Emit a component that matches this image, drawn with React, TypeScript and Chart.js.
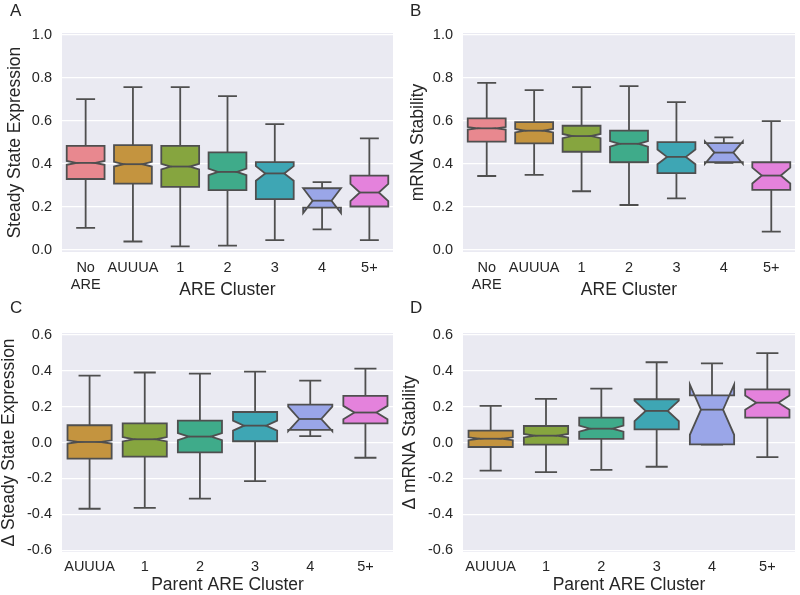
import React, { useEffect, useRef } from "react";
import { Chart, registerables } from "chart.js";
Chart.register(...registerables);

const FONT = '"Liberation Sans", Arial, Helvetica, sans-serif';
const TEXT = "#262626";
const LINE = "#4f4f4f";
const BG = "#EAEAF2";

// categories
const catsAB: (string | string[])[] = [["No", "ARE"], "AUUUA", "1", "2", "3", "4", "5+"];
const catsCD: string[] = ["AUUUA", "1", "2", "3", "4", "5+"];
const colorsAB = ["#e8888f", "#c4943f", "#86a53f", "#3fab8a", "#3ea6b4", "#9aa6e8", "#e482dc"];
const colorsCD = colorsAB.slice(1);
const ticksAB = [0, 0.2, 0.4, 0.6, 0.8, 1.0];
const ticksCD = [-0.6, -0.4, -0.2, 0, 0.2, 0.4, 0.6];

// Panel A: Steady State Expression
const aLow = [0.102, 0.039, 0.016, 0.02, 0.045, 0.095, 0.045];
const aQ1 = [0.33, 0.308, 0.293, 0.278, 0.236, 0.197, 0.202];
const aMed = [0.405, 0.399, 0.388, 0.363, 0.356, 0.229, 0.267];
const aQ3 = [0.484, 0.488, 0.484, 0.454, 0.409, 0.287, 0.346];
const aHigh = [0.702, 0.758, 0.758, 0.716, 0.586, 0.315, 0.519];
const aNotchLo = [0.396, 0.388, 0.375, 0.348, 0.322, 0.171, 0.227];
const aNotchHi = [0.414, 0.41, 0.401, 0.378, 0.39, 0.287, 0.307];

// Panel B: mRNA Stability
const bLow = [0.344, 0.349, 0.273, 0.209, 0.24, 0.405, 0.085];
const bQ1 = [0.504, 0.496, 0.457, 0.408, 0.357, 0.408, 0.279];
const bMed = [0.566, 0.555, 0.53, 0.494, 0.433, 0.453, 0.346];
const bQ3 = [0.612, 0.595, 0.578, 0.555, 0.502, 0.497, 0.408];
const bHigh = [0.778, 0.744, 0.758, 0.763, 0.688, 0.524, 0.6];
const bNotchLo = [0.56, 0.547, 0.52, 0.481, 0.399, 0.401, 0.309];
const bNotchHi = [0.572, 0.563, 0.54, 0.507, 0.467, 0.505, 0.383];

// Panel C: Δ Steady State Expression
const cLow = [-0.369, -0.364, -0.313, -0.215, 0.036, -0.085];
const cQ1 = [-0.09, -0.079, -0.055, 0.007, 0.07, 0.107];
const cMed = [0.003, 0.018, 0.033, 0.094, 0.131, 0.167];
const cQ3 = [0.096, 0.107, 0.122, 0.17, 0.211, 0.26];
const cHigh = [0.373, 0.39, 0.384, 0.395, 0.345, 0.412];
const cNotchLo = [-0.006, 0.006, 0.013, 0.066, 0.063, 0.13];
const cNotchHi = [0.012, 0.03, 0.053, 0.122, 0.2, 0.204];

// Panel D: Δ mRNA Stability
const dLow = [-0.157, -0.165, -0.152, -0.135, -0.012, -0.082];
const dQ1 = [-0.025, -0.012, 0.02, 0.073, -0.01, 0.139];
const dMed = [0.021, 0.038, 0.077, 0.176, 0.183, 0.222];
const dQ3 = [0.066, 0.092, 0.139, 0.241, 0.263, 0.296];
const dHigh = [0.204, 0.243, 0.3, 0.447, 0.441, 0.498];
const dNotchLo = [0.013, 0.028, 0.06, 0.119, 0.043, 0.182];
const dNotchHi = [0.029, 0.048, 0.094, 0.233, 0.323, 0.262];

type Panel = {
  letter: string;
  cats: (string | string[])[];
  colors: string[];
  low: number[]; q1: number[]; med: number[]; q3: number[]; high: number[];
  nLo: number[]; nHi: number[];
  yTitle: string; xTitle: string;
  yMin: number; yMax: number; ticks: number[];
  left: number; top: number; w: number; h: number;
  padTop: number; padRight: number; yAxisW: number; xAxisH: number;
  xTickPad: number; xTitleY: number; yTitleX: number; letterY: number;
};

const panels: Panel[] = [
  {
    letter: "A", cats: catsAB, colors: colorsAB,
    low: aLow, q1: aQ1, med: aMed, q3: aQ3, high: aHigh, nLo: aNotchLo, nHi: aNotchHi,
    yTitle: "Steady State Expression", xTitle: "ARE Cluster",
    yMin: -0.01, yMax: 1.01, ticks: ticksAB,
    left: 0, top: 0, w: 400, h: 297, padTop: 33, padRight: 7, yAxisW: 62, xAxisH: 45,
    xTickPad: 7, xTitleY: 290, yTitleX: 20, letterY: 11,
  },
  {
    letter: "B", cats: catsAB, colors: colorsAB,
    low: bLow, q1: bQ1, med: bMed, q3: bQ3, high: bHigh, nLo: bNotchLo, nHi: bNotchHi,
    yTitle: "mRNA Stability", xTitle: "ARE Cluster",
    yMin: -0.01, yMax: 1.01, ticks: ticksAB,
    left: 400, top: 0, w: 400, h: 297, padTop: 33, padRight: 5, yAxisW: 63, xAxisH: 45,
    xTickPad: 7, xTitleY: 290, yTitleX: 22.5, letterY: 11,
  },
  {
    letter: "C", cats: catsCD, colors: colorsCD,
    low: cLow, q1: cQ1, med: cMed, q3: cQ3, high: cHigh, nLo: cNotchLo, nHi: cNotchHi,
    yTitle: "Δ Steady State Expression", xTitle: "Parent ARE Cluster",
    yMin: -0.61, yMax: 0.61, ticks: ticksCD,
    left: 0, top: 297, w: 400, h: 298, padTop: 36, padRight: 7, yAxisW: 62, xAxisH: 43,
    xTickPad: 6, xTitleY: 288, yTitleX: 14, letterY: 11.5,
  },
  {
    letter: "D", cats: catsCD, colors: colorsCD,
    low: dLow, q1: dQ1, med: dMed, q3: dQ3, high: dHigh, nLo: dNotchLo, nHi: dNotchHi,
    yTitle: "Δ mRNA Stability", xTitle: "Parent ARE Cluster",
    yMin: -0.61, yMax: 0.61, ticks: ticksCD,
    left: 400, top: 297, w: 400, h: 298, padTop: 36, padRight: 5, yAxisW: 63, xAxisH: 43,
    xTickPad: 6, xTitleY: 288, yTitleX: 15, letterY: 11.5,
  },
];

function makePlugin(p: Panel) {
  return {
    id: "notchedBox" + p.letter,
    beforeDraw(chart: any) {
      const { ctx, chartArea: a } = chart;
      ctx.save();
      ctx.fillStyle = BG;
      ctx.fillRect(a.left, a.top, a.right - a.left, a.bottom - a.top);
      ctx.restore();
    },
    afterDatasetsDraw(chart: any) {
      const { ctx } = chart;
      const y = chart.scales.y;
      const py = (v: number) => y.getPixelForValue(v);
      const meta = chart.getDatasetMeta(0);
      ctx.save();
      ctx.lineWidth = 1.8;
      ctx.strokeStyle = LINE;
      ctx.lineJoin = "miter";
      meta.data.forEach((bar: any, i: number) => {
        const { x, width } = bar.getProps(["x", "width"], true);
        const L = x - width / 2;
        const R = x + width / 2;
        const ind = width * 0.25;
        const cap = width * 0.25;
        // whiskers
        ctx.beginPath();
        ctx.moveTo(x, py(p.q3[i]));
        ctx.lineTo(x, py(p.high[i]));
        ctx.moveTo(x, py(p.q1[i]));
        ctx.lineTo(x, py(p.low[i]));
        ctx.moveTo(x - cap, py(p.high[i]));
        ctx.lineTo(x + cap, py(p.high[i]));
        ctx.moveTo(x - cap, py(p.low[i]));
        ctx.lineTo(x + cap, py(p.low[i]));
        ctx.stroke();
        // notched box
        ctx.beginPath();
        ctx.moveTo(L, py(p.q1[i]));
        ctx.lineTo(L, py(p.nLo[i]));
        ctx.lineTo(L + ind, py(p.med[i]));
        ctx.lineTo(L, py(p.nHi[i]));
        ctx.lineTo(L, py(p.q3[i]));
        ctx.lineTo(R, py(p.q3[i]));
        ctx.lineTo(R, py(p.nHi[i]));
        ctx.lineTo(R - ind, py(p.med[i]));
        ctx.lineTo(R, py(p.nLo[i]));
        ctx.lineTo(R, py(p.q1[i]));
        ctx.closePath();
        ctx.fillStyle = p.colors[i];
        ctx.fill();
        ctx.stroke();
        // median
        ctx.beginPath();
        ctx.moveTo(L + ind, py(p.med[i]));
        ctx.lineTo(R - ind, py(p.med[i]));
        ctx.stroke();
      });
      ctx.restore();
    },
    afterDraw(chart: any) {
      const { ctx, chartArea: a } = chart;
      ctx.save();
      ctx.fillStyle = TEXT;
      ctx.font = `17px ${FONT}`;
      ctx.textAlign = "left";
      ctx.textBaseline = "middle";
      ctx.fillText(p.letter, 10, p.letterY);
      ctx.font = `17.5px ${FONT}`;
      ctx.textAlign = "center";
      ctx.fillText(p.xTitle, (a.left + a.right) / 2, p.xTitleY);
      ctx.translate(p.yTitleX, (a.top + a.bottom) / 2);
      ctx.rotate(-Math.PI / 2);
      ctx.textBaseline = "alphabetic";
      ctx.fillText(p.yTitle, 0, 0);
      ctx.restore();
    },
  };
}

function PanelChart({ p }: { p: Panel }) {
  const ref = useRef<HTMLCanvasElement | null>(null);
  useEffect(() => {
    if (!ref.current) return;
    const chart = new Chart(ref.current, {
      type: "bar",
      data: {
        labels: p.cats as any,
        datasets: [
          {
            data: p.q1.map((v, i) => [v, p.q3[i]]) as any,
            backgroundColor: "rgba(0,0,0,0)",
            borderWidth: 0,
            barPercentage: 0.8,
            categoryPercentage: 1.0,
          },
        ],
      },
      options: {
        responsive: false,
        animation: false,
        devicePixelRatio: 1,
        layout: { padding: { top: p.padTop, right: p.padRight, left: 0, bottom: 0 } },
        plugins: { legend: { display: false }, tooltip: { enabled: false }, title: { display: false } },
        scales: {
          x: {
            grid: { display: false, drawTicks: false },
            border: { display: false },
            ticks: {
              color: TEXT,
              font: { family: FONT, size: 14.5 },
              padding: p.xTickPad,
              maxRotation: 0,
              autoSkip: false,
            },
            afterFit: (s: any) => { s.height = p.xAxisH; },
          },
          y: {
            min: p.yMin,
            max: p.yMax,
            grid: { color: "#ffffff", lineWidth: 1.3, drawTicks: false },
            border: { display: false },
            ticks: {
              color: TEXT,
              font: { family: FONT, size: 14.5 },
              padding: 10,
              callback: (v: any) => Number(v).toFixed(1),
            },
            afterBuildTicks: (s: any) => { s.ticks = p.ticks.map((v) => ({ value: v })); },
            afterFit: (s: any) => { s.width = p.yAxisW; },
          },
        },
      },
      plugins: [makePlugin(p)],
    });
    return () => chart.destroy();
  }, [p]);
  return (
    <canvas
      ref={ref}
      width={p.w}
      height={p.h}
      style={{ position: "absolute", left: p.left, top: p.top, width: p.w, height: p.h }}
    />
  );
}

export default function App() {
  return (
    <div style={{ position: "absolute", left: 0, top: 0, width: 800, height: 595, background: "#ffffff" }}>
      {panels.map((p) => (
        <PanelChart key={p.letter} p={p} />
      ))}
    </div>
  );
}
